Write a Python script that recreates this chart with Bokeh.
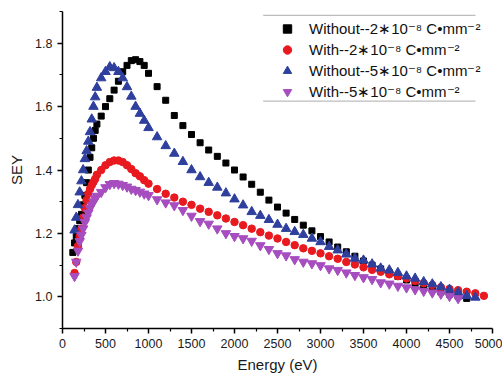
from bokeh.plotting import figure
from bokeh.models import (Legend, LegendItem, BoxAnnotation, Range1d, FixedTicker,
                          PrintfTickFormatter)
from bokeh.embed import file_html
from bokeh.resources import INLINE

# Energy grid (eV)
energy = [120, 140, 160, 180, 200, 220, 240, 260, 280, 300, 320, 340, 360, 380, 400,
          450, 500, 550, 600, 650, 700, 750, 800, 850, 900, 950, 1000,
          1100, 1200, 1300, 1400, 1500, 1600, 1700, 1800, 1900, 2000,
          2100, 2200, 2300, 2400, 2500, 2600, 2700, 2800, 2900, 3000,
          3100, 3200, 3300, 3400, 3500, 3600, 3700, 3800, 3900, 4000,
          4100, 4200, 4300, 4400, 4500, 4600, 4700, 4800, 4900]

# Without -- 2e-8 C/mm2 (starts at 120 eV)
sey_without_2 = [1.14, 1.17, 1.19, 1.215, 1.24, 1.26, 1.29, 1.32, 1.36, 1.40, 1.44, 1.47, 1.50, 1.525, 1.545,
                 1.57, 1.60, 1.625, 1.652, 1.68, 1.71, 1.73, 1.745, 1.748, 1.742, 1.73, 1.705,
                 1.663, 1.62, 1.572, 1.54, 1.512, 1.486, 1.463, 1.443, 1.422, 1.40,
                 1.378, 1.355, 1.33, 1.305, 1.283, 1.264, 1.244, 1.226, 1.208, 1.19,
                 1.173, 1.157, 1.142, 1.128, 1.113, 1.10, 1.088, 1.076, 1.064, 1.053,
                 1.043, 1.033, 1.024, 1.015, 1.008, 1.001, 0.995]

# With -- 2e-8 C/mm2 (starts at 140 eV)
sey_with_2 = [1.075, 1.11, 1.16, 1.19, 1.215, 1.25, 1.28, 1.305, 1.325, 1.34, 1.352, 1.362, 1.372, 1.385,
              1.40, 1.415, 1.425, 1.43, 1.43, 1.425, 1.415, 1.403, 1.39, 1.38, 1.368, 1.357,
              1.34, 1.325, 1.313, 1.30, 1.29, 1.278, 1.268, 1.257, 1.247, 1.236,
              1.226, 1.215, 1.204, 1.193, 1.184, 1.173, 1.163, 1.153, 1.145, 1.137,
              1.128, 1.12, 1.11, 1.102, 1.093, 1.085, 1.079, 1.071, 1.065, 1.058,
              1.05, 1.043, 1.037, 1.03, 1.025, 1.021, 1.016, 1.011, 1.003]

# Without -- 5e-8 C/mm2 (starts at 140 eV)
sey_without_5 = [1.21, 1.25, 1.29, 1.33, 1.365, 1.40, 1.435, 1.46, 1.49, 1.52, 1.56, 1.60, 1.63, 1.66,
                 1.69, 1.71, 1.725, 1.722, 1.71, 1.69, 1.662, 1.632, 1.60, 1.578, 1.556, 1.533,
                 1.504, 1.476, 1.452, 1.426, 1.40, 1.378, 1.36, 1.345, 1.327, 1.308,
                 1.289, 1.268, 1.256, 1.243, 1.228, 1.215, 1.205, 1.196, 1.184, 1.173,
                 1.158, 1.147, 1.134, 1.121, 1.115, 1.103, 1.09, 1.084, 1.076, 1.065,
                 1.058, 1.047, 1.04, 1.031, 1.023, 1.014, 1.003, 0.998]

# With -- 5e-8 C/mm2 (starts at 140 eV)
sey_with_5 = [1.065, 1.11, 1.145, 1.175, 1.195, 1.215, 1.235, 1.25, 1.265, 1.28, 1.29, 1.30, 1.31, 1.318,
              1.33, 1.345, 1.355, 1.358, 1.356, 1.352, 1.347, 1.34, 1.336, 1.331, 1.325, 1.32,
              1.307, 1.297, 1.288, 1.273, 1.255, 1.238, 1.23, 1.215, 1.20, 1.191,
              1.184, 1.176, 1.162, 1.15, 1.137, 1.13, 1.118, 1.11, 1.105, 1.099,
              1.089, 1.084, 1.076, 1.068, 1.061, 1.055, 1.045, 1.041, 1.034, 1.029,
              1.023, 1.018, 1.013, 1.009, 1.002, 0.995]

labels = ["Without--2\u221710\u207b\u2078 C\u2022mm\u207b\u00b2",
          "With--2\u221710\u207b\u2078 C\u2022mm\u207b\u00b2",
          "Without--5\u221710\u207b\u2078 C\u2022mm\u207b\u00b2",
          "With--5\u221710\u207b\u2078 C\u2022mm\u207b\u00b2"]

x_ticks = [0, 500, 1000, 1500, 2000, 2500, 3000, 3500, 4000, 4500, 5000]
x_minor = [250, 750, 1250, 1750, 2250, 2750, 3250, 3750, 4250, 4750]
y_ticks = [1.0, 1.2, 1.4, 1.6, 1.8]
y_minor = [0.9, 1.1, 1.3, 1.5, 1.7, 1.9]

FONT = "Liberation Sans"

p = figure(width=502, height=376, output_backend="svg", toolbar_location=None,
           x_range=Range1d(0, 5000), y_range=Range1d(0.9, 1.9),
           min_border_left=62, min_border_right=10, min_border_top=11, min_border_bottom=48)
p.outline_line_color = None
p.xgrid.visible = False
p.ygrid.visible = False
p.background_fill_color = "white"
p.border_fill_color = "white"

r1 = p.scatter(energy[:len(sey_without_2)], sey_without_2, marker="square", size=6,
               fill_color="black", line_color="black")
r2 = p.scatter(energy[1:1 + len(sey_with_2)], sey_with_2, marker="circle", size=7.5,
               fill_color="#e8191f", line_color="#e8191f")
r3 = p.scatter(energy[1:1 + len(sey_without_5)], sey_without_5, marker="triangle", size=9.5,
               fill_color="#2f3f9e", line_color="#2f3f9e")
r4 = p.scatter(energy[1:1 + len(sey_with_5)], sey_with_5, marker="inverted_triangle", size=9.5,
               fill_color="#a64dbf", line_color="#a64dbf")

for ax, ticks, minor in ((p.xaxis, x_ticks, x_minor), (p.yaxis, y_ticks, y_minor)):
    ax.ticker = FixedTicker(ticks=ticks, minor_ticks=minor)
    ax.axis_line_width = 1.5
    ax.axis_line_color = "black"
    ax.major_tick_line_color = "black"
    ax.minor_tick_line_color = "black"
    ax.major_tick_line_width = 1.5
    ax.minor_tick_line_width = 1.2
    ax.major_tick_in = 0
    ax.major_tick_out = 5
    ax.minor_tick_in = 0
    ax.minor_tick_out = 3
    ax.major_label_text_font = FONT
    ax.major_label_text_font_size = "12.5px"
    ax.major_label_text_color = "#1a1a1a"
    ax.axis_label_text_font = FONT
    ax.axis_label_text_font_style = "normal"
    ax.axis_label_text_color = "#1a1a1a"

p.yaxis.formatter = PrintfTickFormatter(format="%.1f")
p.xaxis.axis_label = "Energy (eV)"
p.xaxis.axis_label_text_font_size = "15px"
p.xaxis.axis_label_standoff = 5
p.yaxis.axis_label = "SEY"
p.yaxis.axis_label_text_font_size = "15px"
p.yaxis.axis_label_standoff = 7

legend = Legend(items=[LegendItem(label=labels[0], renderers=[r1]),
                       LegendItem(label=labels[1], renderers=[r2]),
                       LegendItem(label=labels[2], renderers=[r3]),
                       LegendItem(label=labels[3], renderers=[r4])],
                location=(210, 222))
legend.border_line_alpha = 0
legend.background_fill_alpha = 0
legend.label_text_font = FONT
legend.label_text_font_size = "15px"
legend.label_text_color = "#111111"
legend.label_height = 21
legend.glyph_height = 21
legend.glyph_width = 22
legend.spacing = 0
legend.padding = 4
legend.margin = 0
legend.label_standoff = 11
p.add_layout(legend, "center")

# Horizontal rules above and below the legend
for yy in (1.888, 1.617):
    p.add_layout(BoxAnnotation(left=2334, right=4802, top=yy, bottom=yy,
                               fill_alpha=0, line_color="#222222", line_width=1.2))

open("out.html", "w").write(file_html(p, INLINE))
